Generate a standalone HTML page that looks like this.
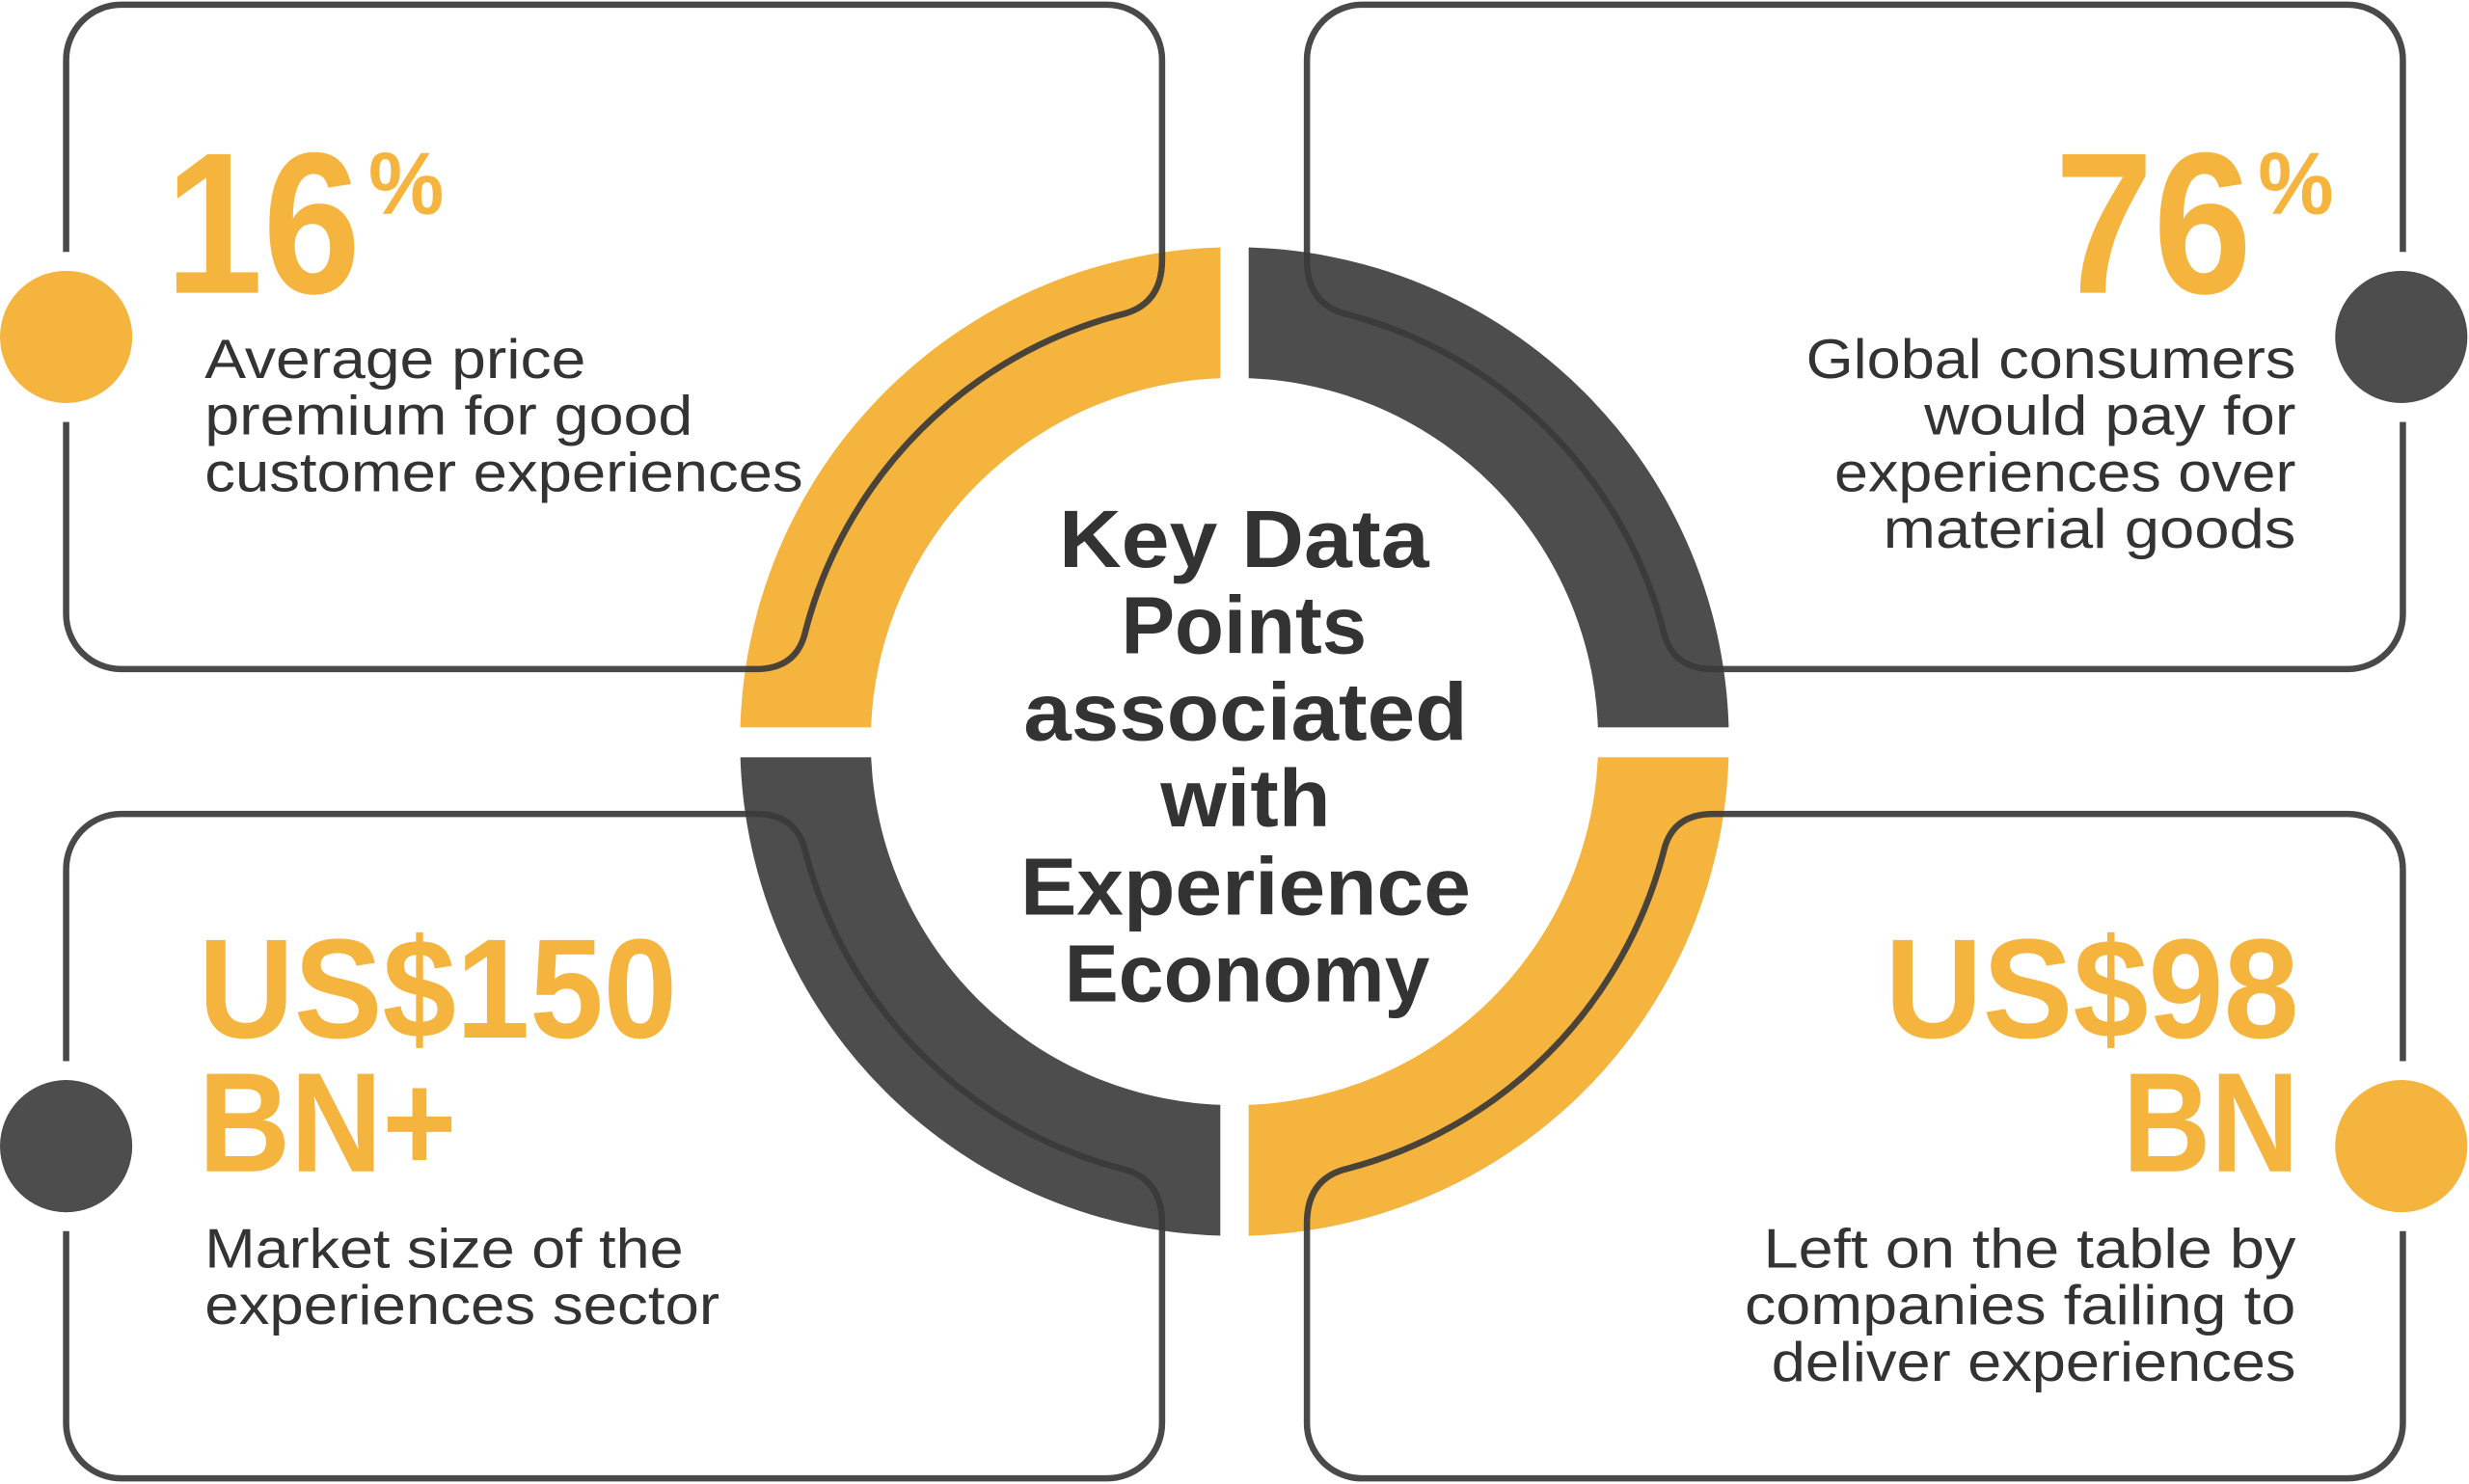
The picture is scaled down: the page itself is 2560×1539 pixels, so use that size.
<!DOCTYPE html>
<html><head><meta charset="utf-8">
<style>
html,body{margin:0;padding:0;background:#fff;}
svg{display:block;}
text{font-family:"Liberation Sans",sans-serif;}
</style></head>
<body>
<svg width="2560" height="1539" viewBox="0 0 1568 942.6" preserveAspectRatio="none" xmlns="http://www.w3.org/2000/svg">
<rect x="0" y="0" width="1568" height="943" fill="#fff"/>
<g>
<path d="M470,471 A314,314 0 0 1 784,157 L784,240 A231,231 0 0 0 553,471 Z" fill="#F4B43E"/>
<path d="M1098,471 A314,314 0 0 0 784,157 L784,240 A231,231 0 0 1 1015,471 Z" fill="#4D4D4D"/>
<path d="M470,471 A314,314 0 0 0 784,785 L784,702 A231,231 0 0 1 553,471 Z" fill="#4D4D4D"/>
<path d="M1098,471 A314,314 0 0 1 784,785 L784,702 A231,231 0 0 0 1015,471 Z" fill="#F4B43E"/>
<rect x="775" y="140" width="18" height="660" fill="#fff"/>
<rect x="450" y="462" width="670" height="19" fill="#fff"/>
</g>
<g fill="none" stroke="#3a3a3a" stroke-width="4" stroke-opacity="0.92">
<path id="bx" d="M42,160 L42,38 A35,35 0 0 1 77,3 L703,3 A35,35 0 0 1 738,38 L738,165 Q738,192 715,199 A281,281 0 0 0 511,403 Q505,425 480,425 L77,425 A35,35 0 0 1 42,390 L42,268"/>
<use href="#bx" transform="translate(1568,0) scale(-1,1)"/>
<use href="#bx" transform="translate(0,942) scale(1,-1)"/>
<use href="#bx" transform="translate(1568,942) scale(-1,-1)"/>
</g>
<circle cx="42" cy="214" r="42" fill="#F4B43E"/>
<circle cx="1525" cy="214" r="42" fill="#4D4D4D"/>
<circle cx="42" cy="728" r="42" fill="#4D4D4D"/>
<circle cx="1525" cy="728" r="42" fill="#F4B43E"/>
<g lengthAdjust="spacingAndGlyphs">
<text x="105" y="186" font-size="128" font-weight="bold" fill="#F4B43E" textLength="124" lengthAdjust="spacingAndGlyphs">16</text>
<text x="234" y="136" font-size="56" font-weight="bold" fill="#F4B43E" textLength="48" lengthAdjust="spacingAndGlyphs">%</text>
<g font-size="35" fill="#333">
<text x="130" y="240" textLength="242" lengthAdjust="spacingAndGlyphs">Average price</text>
<text x="130" y="276" textLength="310" lengthAdjust="spacingAndGlyphs">premium for good</text>
<text x="130" y="312" textLength="380" lengthAdjust="spacingAndGlyphs">customer experiences</text>
</g>
<text x="1305" y="186" font-size="128" font-weight="bold" fill="#F4B43E" textLength="125" lengthAdjust="spacingAndGlyphs">76</text>
<text x="1434" y="136" font-size="56" font-weight="bold" fill="#F4B43E" textLength="48" lengthAdjust="spacingAndGlyphs">%</text>
<g font-size="35" fill="#333" text-anchor="end">
<text x="1458" y="240" textLength="311" lengthAdjust="spacingAndGlyphs">Global consumers</text>
<text x="1458" y="276" textLength="236" lengthAdjust="spacingAndGlyphs">would pay for</text>
<text x="1458" y="312" textLength="293" lengthAdjust="spacingAndGlyphs">experiences over</text>
<text x="1458" y="348" textLength="262" lengthAdjust="spacingAndGlyphs">material goods</text>
</g>
<g font-size="90" font-weight="bold" fill="#F4B43E">
<text x="126" y="659" textLength="304" lengthAdjust="spacingAndGlyphs">US$150</text>
<text x="126" y="744" textLength="164" lengthAdjust="spacingAndGlyphs">BN+</text>
</g>
<g font-size="35" fill="#333">
<text x="130" y="805" textLength="304" lengthAdjust="spacingAndGlyphs">Market size of the</text>
<text x="130" y="841" textLength="327" lengthAdjust="spacingAndGlyphs">experiences sector</text>
</g>
<g font-size="90" font-weight="bold" fill="#F4B43E" text-anchor="end">
<text x="1460" y="659" textLength="263" lengthAdjust="spacingAndGlyphs">US$98</text>
<text x="1460" y="744" textLength="112" lengthAdjust="spacingAndGlyphs">BN</text>
</g>
<g font-size="35" fill="#333" text-anchor="end">
<text x="1458" y="805" textLength="338" lengthAdjust="spacingAndGlyphs">Left on the table by</text>
<text x="1458" y="841" textLength="350" lengthAdjust="spacingAndGlyphs">companies failing to</text>
<text x="1458" y="877" textLength="333" lengthAdjust="spacingAndGlyphs">deliver experiences</text>
</g>
<g font-size="52" font-weight="bold" fill="#333" text-anchor="middle">
<text x="790" y="360" textLength="235" lengthAdjust="spacingAndGlyphs">Key Data</text>
<text x="790" y="415" textLength="156" lengthAdjust="spacingAndGlyphs">Points</text>
<text x="791" y="470" textLength="282" lengthAdjust="spacingAndGlyphs">associated</text>
<text x="791" y="525" textLength="108" lengthAdjust="spacingAndGlyphs">with</text>
<text x="791" y="581" textLength="286" lengthAdjust="spacingAndGlyphs">Experience</text>
<text x="792" y="636" textLength="232" lengthAdjust="spacingAndGlyphs">Economy</text>
</g>
</g>
</svg>
</body></html>
